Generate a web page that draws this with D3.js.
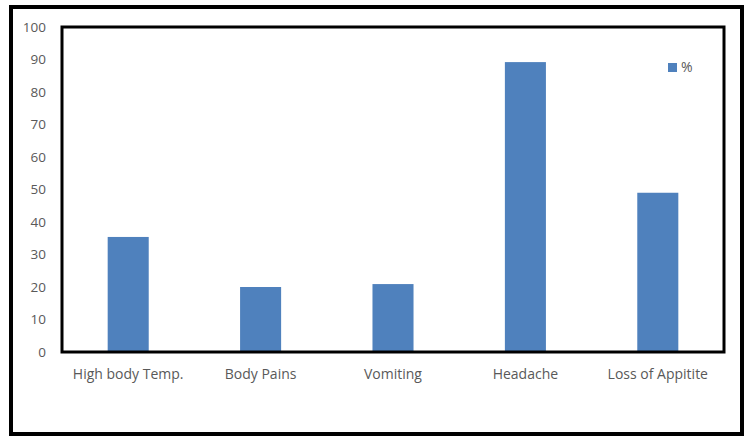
<!DOCTYPE html>
<html><head><meta charset="UTF-8">
<title>Symptoms</title>
<script src="https://d3js.org/d3.v7.min.js"></script>
<style>
  body { margin: 0; background: #fff; }
  text { font-family: "Open Sans", "Noto Sans", sans-serif; fill: #595959; }
</style>
</head>
<body>
<svg width="752" height="447"></svg>
<script>
  // data
  const categories = ["High body Temp.", "Body Pains", "Vomiting", "Headache", "Loss of Appitite"];
  const values = [35.4, 20, 20.9, 89.2, 49];
  const yTicks = [0, 10, 20, 30, 40, 50, 60, 70, 80, 90, 100];
  const seriesName = "%";

  const svg = d3.select("svg");

  // outer border
  svg.append("rect")
    .attr("x", 11).attr("y", 7)
    .attr("width", 731).attr("height", 427)
    .attr("fill", "none").attr("stroke", "#000").attr("stroke-width", 4);

  const plot = {left: 62, top: 27, right: 724, bottom: 352};

  const x = d3.scaleBand()
    .domain(categories)
    .range([plot.left, plot.right])
    .paddingInner(0.69).paddingOuter(0.345);

  const y = d3.scaleLinear()
    .domain([0, 100])
    .range([plot.bottom, plot.top]);

  // bars
  svg.selectAll("rect.bar")
    .data(values)
    .join("rect")
      .attr("class", "bar")
      .attr("x", (d, i) => x(categories[i]))
      .attr("y", d => y(d))
      .attr("width", x.bandwidth())
      .attr("height", d => y(0) - y(d))
      .attr("fill", "#4f81bd");

  // plot frame
  svg.append("rect")
    .attr("x", plot.left).attr("y", plot.top)
    .attr("width", plot.right - plot.left).attr("height", plot.bottom - plot.top)
    .attr("fill", "none").attr("stroke", "#000").attr("stroke-width", 3);

  // y tick labels
  svg.selectAll("text.ytick")
    .data(yTicks)
    .join("text")
      .attr("class", "ytick")
      .attr("x", 46)
      .attr("y", d => y(d))
      .attr("dy", "0.35em")
      .attr("text-anchor", "end")
      .style("font-size", "13.5px")
      .text(d => d);

  // category labels
  svg.selectAll("text.xtick")
    .data(categories)
    .join("text")
      .attr("class", "xtick")
      .attr("x", d => x(d) + x.bandwidth() / 2)
      .attr("y", 374)
      .attr("dy", "0.35em")
      .attr("text-anchor", "middle")
      .style("font-size", "14px")
      .text(d => d);

  // legend
  svg.append("rect")
    .attr("x", 668).attr("y", 63)
    .attr("width", 9).attr("height", 9)
    .attr("fill", "#4f81bd");
  svg.append("text")
    .attr("x", 681).attr("y", 67.5)
    .attr("dy", "0.35em")
    .style("font-size", "14px")
    .text(seriesName);
</script>
</body></html>
